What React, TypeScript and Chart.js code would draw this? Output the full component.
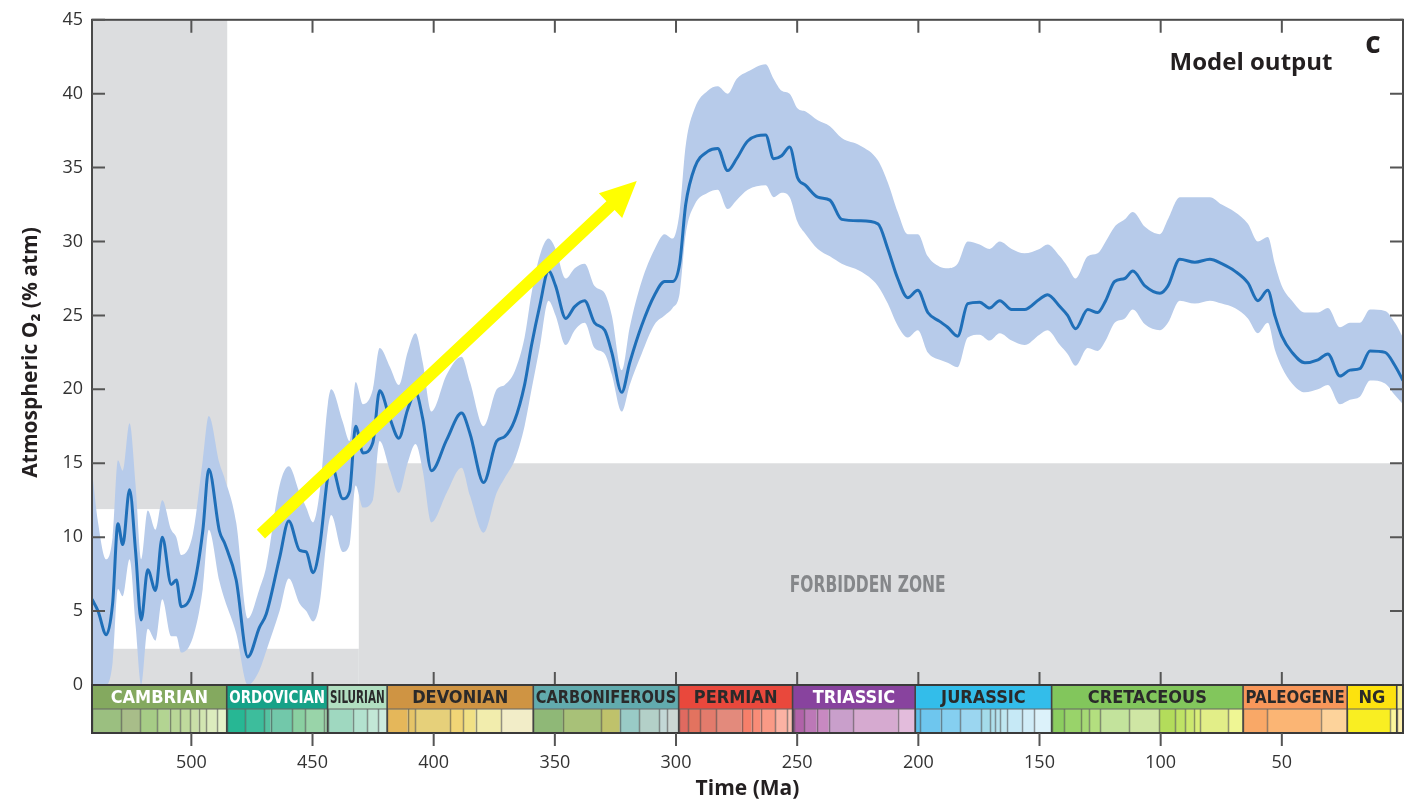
import React, { useEffect, useRef } from "react";
import { Chart, registerables } from "chart.js";

Chart.register(...registerables);

// ---------- data (Ma, % atm) ----------
const AGES = [
  541, 538.5, 535.1, 532.5, 530.3, 528.3, 525.5, 523, 520.7, 518, 514.8, 512, 508.3, 506.2, 504.2, 499.4,
  495.3, 492.8, 488.4, 486.3, 481.5, 476.7, 471.9, 469.1, 463.6, 459.8, 455.3, 452.6, 449.8, 447.1, 443.7,
  442.3, 437.5, 434.7, 432.2, 429.2, 425.1, 422.3, 418, 414.4, 410.8, 407.5, 404.5, 400.9, 394.6, 388.5,
  385, 379.4, 374, 370.7, 366.6, 362.5, 359.6, 356.3, 352.6, 349.7, 345.5, 341.8, 337.7, 333.6, 329.4,
  326.5, 322.4, 319.1, 314.2, 308.8, 304.7, 301.4, 298.5, 296, 292.3, 286.9, 282.8, 278.7, 275, 270.4,
  263, 259.7, 256.4, 253.1, 249.8, 246.5, 241.5, 236.5, 231.6, 224.1, 216.7, 212.6, 208.5, 204.4, 200.2,
  196.1, 191.2, 187.9, 183.8, 179.6, 174.7, 170.6, 166.4, 161.5, 156.2, 150, 146.7, 141.6, 138.4, 135.1,
  130.1, 126, 122.7, 119, 114.8, 111.5, 106.5, 100.3, 97, 92.1, 85.9, 79.7, 74.8, 69.4, 64, 59.9, 55.8,
  52.9, 50, 45.8, 40.5, 35.1, 31, 26, 21.9, 17.8, 13.6, 7.4, 3.3, 0,
];
const O2_MEAN = [
  5.8, 5.0, 3.4, 5.5, 10.9, 9.5, 13.2, 9.0, 4.4, 7.8, 6.4, 10.0, 6.8, 7.1, 5.3, 6.4,
  10.4, 14.6, 10.4, 9.6, 7.1, 1.9, 3.9, 4.8, 8.6, 11.1, 9.1, 9.0, 7.6, 9.3, 14.1,
  14.9, 12.6, 13.1, 17.5, 15.7, 16.4, 19.9, 18.0, 16.7, 18.6, 19.8, 18.0, 14.5, 16.6, 18.4,
  17.0, 13.7, 16.5, 16.8, 17.9, 20.3, 23.0, 25.6, 28.0, 27.0, 24.8, 25.6, 26.0, 24.5, 24.0,
  22.5, 19.8, 21.8, 24.3, 26.4, 27.3, 27.3, 28.5, 32.5, 35.0, 36.1, 36.3, 34.8, 35.6, 36.8,
  37.2, 35.6, 35.8, 36.4, 34.3, 33.8, 33.0, 32.8, 31.5, 31.4, 31.2, 29.5, 27.5, 26.2, 26.7,
  25.2, 24.6, 24.2, 23.6, 25.8, 25.9, 25.5, 26.0, 25.4, 25.4, 26.1, 26.4, 25.6, 25.0, 24.1,
  25.4, 25.2, 26.0, 27.3, 27.5, 28.0, 27.0, 26.5, 27.0, 28.8, 28.6, 28.8, 28.5, 28.0, 27.2, 26.0, 26.7,
  25.0, 23.6, 22.5, 21.8, 22.0, 22.4, 20.9, 21.3, 21.4, 22.6, 22.5, 21.6, 20.6,
];
const O2_UPPER = [
  14.5, 11.0, 8.5, 10.0, 15.2, 14.5, 17.7, 13.5, 8.5, 11.8, 10.5, 12.5, 10.5, 10.0, 8.8, 10.2,
  15.2, 18.2, 15.0, 14.0, 11.0, 4.5, 6.5, 8.0, 13.5, 14.8, 13.0, 12.0, 11.0, 13.0, 19.0,
  20.0, 17.8, 16.5, 20.5, 19.0, 20.0, 22.8, 21.5, 20.3, 22.5, 23.8, 21.8, 18.5, 21.0, 22.2,
  20.5, 17.5, 20.0, 20.3, 21.2, 23.5, 26.5, 29.0, 30.2, 29.5, 27.5, 28.2, 28.5, 27.0, 26.5,
  25.0, 21.3, 24.2, 27.3, 29.5, 30.5, 30.2, 32.0, 36.5, 39.0, 40.2, 40.5, 40.0, 41.0, 41.5,
  42.0, 41.0, 40.2, 40.0, 39.0, 38.8, 38.2, 37.8, 37.0, 36.5, 35.5, 34.0, 32.0, 30.5, 30.5,
  29.0, 28.3, 28.2, 28.5, 30.0, 29.8, 29.5, 30.0, 29.5, 29.2, 29.5, 29.8, 29.0, 28.3, 27.5,
  29.0, 29.2, 30.0, 31.0, 31.5, 32.0, 31.0, 30.5, 31.5, 33.0, 33.0, 33.0, 32.5, 32.0, 31.2, 30.0, 30.3,
  28.5, 27.0, 26.0, 25.2, 25.2, 25.5, 24.2, 24.5, 24.5, 25.4, 25.3, 24.5, 23.5,
];
const O2_LOWER = [
  0, 0, 0, 1.5, 6.5, 6.0, 8.5, 4.0, 0, 3.8, 3.0, 5.8, 3.3, 3.3, 2.2, 3.2,
  6.5, 10.5, 7.0, 5.8, 3.5, 0, 1.0, 2.3, 5.0, 7.2, 5.5, 5.0, 4.3, 5.5, 10.5,
  11.5, 9.0, 9.5, 13.5, 12.0, 12.5, 16.5, 14.5, 13.0, 15.0, 16.3, 14.5, 11.0, 13.0, 14.7,
  12.8, 10.3, 13.0, 14.0, 15.2, 17.5, 20.0, 22.8, 26.0, 25.0, 23.0, 24.0, 24.5, 22.8, 22.4,
  21.0, 18.5, 20.3, 22.4, 24.4, 25.0, 25.5, 26.5, 30.5, 32.5, 33.3, 33.5, 32.2, 32.8, 33.5,
  33.8, 33.0, 33.3, 33.0, 31.3, 30.5, 29.5, 29.0, 28.5, 28.0, 27.0, 25.8, 24.3, 23.5, 24.0,
  22.5, 22.0, 21.8, 21.5, 23.5, 23.7, 23.3, 23.8, 23.3, 23.0, 23.7, 24.0, 23.0, 22.4, 21.6,
  22.8, 22.6, 23.3, 24.5, 24.8, 25.4, 24.4, 24.0, 24.5, 26.0, 25.8, 26.0, 25.8, 25.5, 24.8, 23.8, 24.5,
  22.7, 21.5, 20.4, 19.8, 20.0, 20.3, 19.0, 19.3, 19.5, 20.6, 20.4, 19.6, 19.0,
];

const X_TICKS = [500, 450, 400, 350, 300, 250, 200, 150, 100, 50];
const Y_TICKS = [0, 5, 10, 15, 20, 25, 30, 35, 40, 45];

// grey "forbidden" areas: age range, O2 range
const ZONE_AGE_FROM = [541, 541, 430.9];
const ZONE_AGE_TO = [485.2, 430.9, 0];
const ZONE_O2_FROM = [11.9, 0, 0];
const ZONE_O2_TO = [45, 2.45, 15];

// arrow (age, O2)
const ARROW_FROM = [471.3, 10.2];
const ARROW_TO = [316.2, 34.1];

// geological periods
const PERIOD_NAMES = ["CAMBRIAN", "ORDOVICIAN", "SILURIAN", "DEVONIAN", "CARBONIFEROUS", "PERMIAN", "TRIASSIC", "JURASSIC", "CRETACEOUS", "PALEOGENE", "NG", ""];
const PERIOD_START = [541, 485.4, 443.8, 419.2, 358.9, 298.9, 251.9, 201.3, 145, 66, 23.03, 2.58];
const PERIOD_COLORS = ["#84a95f", "#16a288", "#b2dfc1", "#cf9443", "#62abae", "#e9483c", "#88439e", "#33bdea", "#82c65c", "#f8975a", "#fde20e", "#f8f08e"];
const PERIOD_TEXT = ["#ffffff", "#ffffff", "#2a2a2a", "#2a2a2a", "#2a2a2a", "#2a2a2a", "#ffffff", "#2a2a2a", "#2a2a2a", "#2a2a2a", "#2a2a2a", "#2a2a2a"];

// stages / epochs (start ages)
const STAGE_START = [
  541, 529, 521, 514, 509, 504.5, 500.5, 497, 494, 489.5,
  485.4, 477.7, 470, 467.3, 458.4, 453, 445.2,
  443.8, 433.4, 427.4, 423,
  419.2, 410.8, 407.6, 393.3, 387.7, 382.7, 372.2,
  358.9, 346.7, 330.9, 323.2, 315.2, 307, 303.7,
  298.9, 295, 290.1, 283.5, 272.95, 268.8, 265.1, 259.1, 254.14,
  251.9, 251.2, 247.2, 242, 237, 227, 208.5,
  201.3, 199.3, 190.8, 182.7, 174.1, 170.3, 168.3, 166.1, 163.5, 157.3, 152.1,
  145, 139.8, 132.9, 129.4, 125, 113, 100.5, 93.9, 89.8, 86.3, 83.6, 72.1,
  66, 56, 33.9,
  23.03, 5.333,
  2.58,
];
const STAGE_COLORS = [
  "#9bbf80", "#a8bd89", "#a6cc86", "#b3d492", "#b9d797", "#bfda9d", "#c9dfa8", "#d2e6b1", "#dcecbd", "#e4f2c8",
  "#27b794", "#3dbd9c", "#55c2a1", "#72c8aa", "#8acfa1", "#99d4a9", "#a6dbb1",
  "#9fd8c0", "#b3e2cf", "#c2e7d6", "#cdebdf",
  "#e5b75a", "#e5c468", "#e6d07a", "#f1d576", "#f1e185", "#f2edad", "#f2edc8",
  "#8fb877", "#a8c178", "#bfc26b", "#99cbc6", "#b3d0c8", "#c3d8d6", "#ccd8d4",
  "#e06a60", "#e3735f", "#e37b6c", "#e38a7c", "#f67f6a", "#f98c77", "#fa9a86", "#fbb2a3", "#fcc0b2",
  "#a4469f", "#b162a9", "#bc78b7", "#c889c1", "#c99fcb", "#d6aad0", "#e3bcdc",
  "#5bbee9", "#6ec6ee", "#85cff0", "#9bd6f0", "#a4dcea", "#aee0ec", "#b7e3ee", "#bfe7f1", "#c6e9f6", "#d1edf8", "#dcf2fa",
  "#8ccd60", "#99d36a", "#a6d975", "#b3df7f", "#c3e39c", "#cfe6a4", "#b3dc5b", "#bfe265", "#cce86e", "#d9ee79", "#e2ee88", "#eff694",
  "#f9a867", "#fbb574", "#fdd39b",
  "#f9ee22", "#fbf59c",
  "#fff2ae",
];

const LINE_COLOR = "#1f6fb8";
const BAND_COLOR = "#b7cbea";
const ZONE_COLOR = "#dcdddf";
const FONT = '"Open Sans", "Noto Sans", sans-serif';
const NARROW = '"Liberation Sans Narrow", "DejaVu Sans Condensed", sans-serif';

const pts = (vals: number[]) => AGES.map((a, i) => ({ x: a, y: vals[i] }));

function fillFit(ctx: CanvasRenderingContext2D, text: string, cx: number, cy: number, maxW: number) {
  const w = ctx.measureText(text).width;
  const s = w > maxW ? maxW / w : 1;
  ctx.save();
  ctx.translate(cx, cy);
  ctx.scale(s, 1);
  ctx.fillText(text, 0, 0);
  ctx.restore();
}

const backgroundPlugin = {
  id: "zones",
  beforeDatasetsDraw(chart: any) {
    const { ctx, chartArea: a, scales } = chart;
    const x = scales.x, y = scales.y;
    ctx.save();
    ctx.beginPath();
    ctx.rect(a.left, a.top, a.right - a.left, a.bottom - a.top);
    ctx.clip();
    ctx.fillStyle = ZONE_COLOR;
    for (let i = 0; i < ZONE_AGE_FROM.length; i++) {
      const x1 = x.getPixelForValue(ZONE_AGE_FROM[i]);
      const x2 = x.getPixelForValue(ZONE_AGE_TO[i]);
      const y1 = y.getPixelForValue(ZONE_O2_FROM[i]);
      const y2 = y.getPixelForValue(ZONE_O2_TO[i]);
      ctx.fillRect(Math.min(x1, x2), Math.min(y1, y2), Math.abs(x2 - x1), Math.abs(y2 - y1));
    }
    ctx.fillStyle = "#85878a";
    ctx.font = `bold 23px ${NARROW}`;
    ctx.textAlign = "center";
    ctx.textBaseline = "middle";
    fillFit(ctx, "FORBIDDEN ZONE", x.getPixelForValue(220.9), y.getPixelForValue(6.68), 156);
    ctx.restore();
  },
};

const overlayPlugin = {
  id: "overlay",
  afterDatasetsDraw(chart: any) {
    const { ctx, chartArea: a, scales } = chart;
    const x = scales.x, y = scales.y;
    ctx.save();

    // arrow
    const x0 = x.getPixelForValue(ARROW_FROM[0]), y0 = y.getPixelForValue(ARROW_FROM[1]);
    const x1 = x.getPixelForValue(ARROW_TO[0]), y1 = y.getPixelForValue(ARROW_TO[1]);
    const ang = Math.atan2(y1 - y0, x1 - x0);
    const headLen = 36, headHalf = 17, shaft = 12;
    const bx = x1 - headLen * Math.cos(ang), by = y1 - headLen * Math.sin(ang);
    const nx = -Math.sin(ang), ny = Math.cos(ang);
    ctx.fillStyle = "#ffff00";
    ctx.beginPath();
    ctx.moveTo(x0 + nx * shaft / 2, y0 + ny * shaft / 2);
    ctx.lineTo(bx + nx * shaft / 2, by + ny * shaft / 2);
    ctx.lineTo(bx + nx * headHalf, by + ny * headHalf);
    ctx.lineTo(x1, y1);
    ctx.lineTo(bx - nx * headHalf, by - ny * headHalf);
    ctx.lineTo(bx - nx * shaft / 2, by - ny * shaft / 2);
    ctx.lineTo(x0 - nx * shaft / 2, y0 - ny * shaft / 2);
    ctx.closePath();
    ctx.fill();

    // frame
    ctx.strokeStyle = "#4a4a4a";
    ctx.lineWidth = 2;
    ctx.strokeRect(a.left, a.top, a.right - a.left, a.bottom - a.top);

    // tick marks
    ctx.strokeStyle = "#555";
    ctx.lineWidth = 2;
    ctx.beginPath();
    const tl = 13;
    X_TICKS.forEach((v) => {
      const px = x.getPixelForValue(v);
      ctx.moveTo(px, a.top); ctx.lineTo(px, a.top + tl);
      ctx.moveTo(px, a.bottom); ctx.lineTo(px, a.bottom - tl);
    });
    Y_TICKS.forEach((v) => {
      const py = y.getPixelForValue(v);
      ctx.moveTo(a.left, py); ctx.lineTo(a.left + tl, py);
      ctx.moveTo(a.right, py); ctx.lineTo(a.right - tl, py);
    });
    ctx.stroke();

    // labels
    ctx.fillStyle = "#231f20";
    ctx.textAlign = "center";
    ctx.textBaseline = "alphabetic";
    ctx.font = `bold 24px ${FONT}`;
    ctx.fillText("Model output", 1251, 70);
    ctx.font = `bold 30px ${FONT}`;
    ctx.fillText("c", 1373, 53);
    ctx.restore();
  },
  afterDraw(chart: any) {
    const { ctx, chartArea: a, scales } = chart;
    const x = scales.x;
    const top = a.bottom, mid = a.bottom + 24, bot = a.bottom + 48;
    ctx.save();
    // stage row
    for (let i = 0; i < STAGE_START.length; i++) {
      const s = STAGE_START[i];
      const e = i + 1 < STAGE_START.length ? STAGE_START[i + 1] : 0;
      const p1 = x.getPixelForValue(s), p2 = x.getPixelForValue(e);
      ctx.fillStyle = STAGE_COLORS[i];
      ctx.fillRect(p1, mid, p2 - p1, bot - mid);
    }
    // period row
    for (let i = 0; i < PERIOD_START.length; i++) {
      const s = PERIOD_START[i];
      const e = i + 1 < PERIOD_START.length ? PERIOD_START[i + 1] : 0;
      const p1 = x.getPixelForValue(s), p2 = x.getPixelForValue(e);
      ctx.fillStyle = PERIOD_COLORS[i];
      ctx.fillRect(p1, top, p2 - p1, mid - top);
    }
    // stage dividers
    ctx.strokeStyle = "rgba(70,70,70,0.55)";
    ctx.lineWidth = 1.5;
    ctx.beginPath();
    STAGE_START.forEach((s) => {
      const p = Math.round(x.getPixelForValue(s)) + 0.5;
      ctx.moveTo(p, mid); ctx.lineTo(p, bot);
    });
    ctx.stroke();
    // midline
    ctx.strokeStyle = "#666";
    ctx.lineWidth = 1.2;
    ctx.beginPath();
    ctx.moveTo(a.left, mid); ctx.lineTo(a.right, mid);
    ctx.stroke();
    // period dividers
    ctx.strokeStyle = "#444";
    ctx.lineWidth = 1.6;
    ctx.beginPath();
    PERIOD_START.forEach((s) => {
      const p = x.getPixelForValue(s);
      ctx.moveTo(p, top); ctx.lineTo(p, bot);
    });
    ctx.stroke();
    // outline
    ctx.strokeStyle = "#3a3a3a";
    ctx.lineWidth = 2;
    ctx.strokeRect(a.left, top, a.right - a.left, bot - top);
    // ticks below
    ctx.strokeStyle = "#555";
    ctx.lineWidth = 2;
    ctx.beginPath();
    X_TICKS.forEach((v) => {
      const px = x.getPixelForValue(v);
      ctx.moveTo(px, bot); ctx.lineTo(px, bot + 13);
    });
    ctx.stroke();
    // period names
    ctx.font = `bold 18px ${NARROW}`;
    ctx.textAlign = "center";
    ctx.textBaseline = "middle";
    for (let i = 0; i < PERIOD_START.length; i++) {
      if (!PERIOD_NAMES[i]) continue;
      const s = PERIOD_START[i];
      const e = i + 1 < PERIOD_START.length ? PERIOD_START[i + 1] : 0;
      const p1 = x.getPixelForValue(s), p2 = x.getPixelForValue(e);
      ctx.fillStyle = PERIOD_TEXT[i];
      fillFit(ctx, PERIOD_NAMES[i], (p1 + p2) / 2, (top + mid) / 2 + 1, Math.abs(p2 - p1) - 5);
    }
    ctx.restore();
  },
};

export default function App() {
  const ref = useRef<HTMLCanvasElement>(null);
  useEffect(() => {
    const canvas = ref.current;
    if (!canvas) return;
    const chart = new Chart(canvas, {
      type: "line",
      data: {
        datasets: [
          {
            label: "mean",
            data: pts(O2_MEAN),
            borderColor: LINE_COLOR,
            borderWidth: 3,
            pointRadius: 0,
            fill: false,
            cubicInterpolationMode: "monotone",
          },
          {
            label: "upper",
            data: pts(O2_UPPER),
            borderColor: "rgba(0,0,0,0)",
            borderWidth: 0,
            backgroundColor: BAND_COLOR,
            pointRadius: 0,
            fill: "+1",
            cubicInterpolationMode: "monotone",
          },
          {
            label: "lower",
            data: pts(O2_LOWER),
            borderColor: "rgba(0,0,0,0)",
            borderWidth: 0,
            pointRadius: 0,
            fill: false,
            cubicInterpolationMode: "monotone",
          },
        ],
      } as any,
      options: {
        responsive: false,
        animation: false,
        events: [],
        layout: { padding: { top: 15, right: 11, left: 0, bottom: 0 } },
        plugins: { legend: { display: false }, tooltip: { enabled: false } },
        scales: {
          x: {
            type: "linear",
            reverse: true,
            min: 0,
            max: 541,
            grid: { display: false, drawTicks: false },
            border: { display: false },
            afterBuildTicks: (s: any) => {
              s.ticks = X_TICKS.map((v) => ({ value: v }));
            },
            afterFit: (s: any) => {
              s.height = 116;
            },
            ticks: {
              autoSkip: false,
              maxRotation: 0,
              padding: 67,
              color: "#333",
              font: { family: FONT, size: 18 },
              callback: (v: any) => String(v),
            },
            title: {
              display: true,
              text: "Time (Ma)",
              color: "#231f20",
              font: { family: FONT, size: 21, weight: "bold" },
              padding: { top: 0, bottom: -1 },
            },
          },
          y: {
            type: "linear",
            min: 0,
            max: 45,
            grid: { display: false, drawTicks: false },
            border: { display: false },
            afterBuildTicks: (s: any) => {
              s.ticks = Y_TICKS.map((v) => ({ value: v }));
            },
            afterFit: (s: any) => {
              s.width = 92;
            },
            ticks: {
              padding: 9,
              color: "#333",
              font: { family: FONT, size: 18 },
            },
            title: {
              display: true,
              text: "Atmospheric O₂ (% atm)",
              color: "#231f20",
              font: { family: FONT, size: 21, weight: "bold" },
              padding: { top: 18, bottom: 0 },
            },
          },
        },
      } as any,
      plugins: [backgroundPlugin, overlayPlugin],
    });
    return () => chart.destroy();
  }, []);
  return (
    <div style={{ position: "fixed", left: 0, top: 0, width: 1414, height: 801, background: "#fff" }}>
      <canvas ref={ref} width={1414} height={801} style={{ display: "block" }} />
    </div>
  );
}
